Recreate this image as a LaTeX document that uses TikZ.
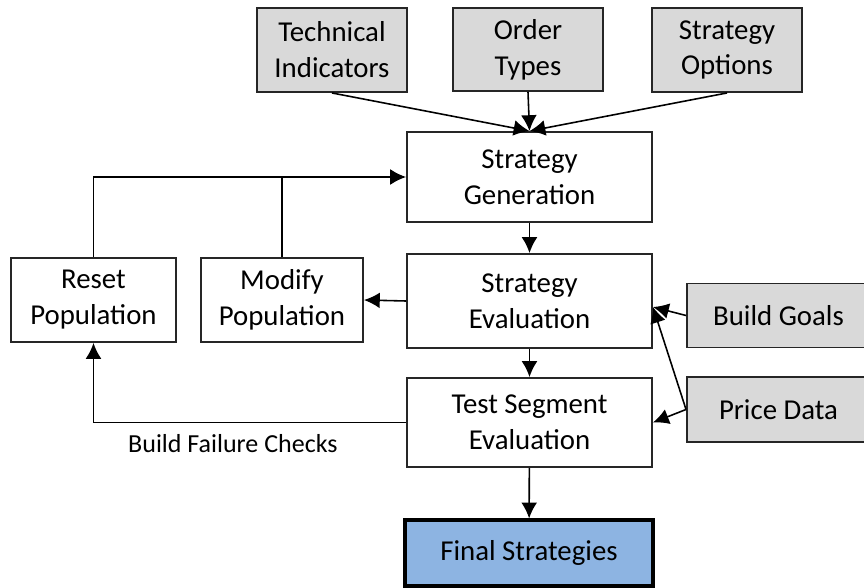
\documentclass[tikz,border=0pt]{standalone}
\usepackage{fontspec}
\setmainfont{Carlito}
\usetikzlibrary{arrows.meta}
\tikzset{>={Latex[length=9pt,width=9pt]}}
\definecolor{inputgray}{HTML}{D9D9D9}
\definecolor{finalblue}{HTML}{8DB4E2}
\colorlet{edge}{black!85}

\begin{document}
\begin{tikzpicture}[
  font=\fontsize{16.4}{20.4}\selectfont,
  box/.style={draw=edge, line width=1.1pt, fill=white, align=center, inner sep=0pt},
  inputbox/.style={box, fill=inputgray},
  finalbox/.style={box, fill=finalblue, line width=1.8pt, draw=black},
  flow/.style={->, line width=0.9pt, black}
]
  \useasboundingbox (0,0) rectangle (17.28,11.74);
  % inputs
  \node[inputbox, minimum width=3cm, minimum height=1.68cm] (indicators) at (6.64,10.74) {Technical\\Indicators};
  \node[inputbox, minimum width=3cm, minimum height=1.66cm] (ordertypes) at (10.56,10.75) {Order\\Types};
  \node[inputbox, minimum width=3cm, minimum height=1.68cm] (options) at (14.54,10.74) {Strategy\\Options};
  % main column
  \node[box, minimum width=4.9cm, minimum height=1.8cm] (generation) at (10.59,8.20) {Strategy\\Generation};
  \node[box, minimum width=4.9cm, minimum height=1.88cm] (evaluation) at (10.59,5.72) {Strategy\\Evaluation};
  \node[box, minimum width=4.9cm, minimum height=1.78cm] (testseg) at (10.59,3.29) {Test Segment\\Evaluation};
  \node[finalbox, minimum width=4.96cm, minimum height=1.32cm] (final) at (10.58,0.68) {Final Strategies};
  % population
  \node[box, minimum width=3.3cm, minimum height=1.68cm] (reset) at (1.87,5.74) {Reset\\Population};
  \node[box, minimum width=3.24cm, minimum height=1.68cm] (modify) at (5.64,5.74) {Modify\\Population};
  % data
  \node[inputbox, minimum width=3.66cm, minimum height=1.28cm] (goals) at (15.57,5.43) {Build Goals};
  \node[inputbox, minimum width=3.66cm, minimum height=1.3cm] (prices) at (15.57,3.55) {Price Data};

  \draw[flow] (indicators.south) -- (generation.north);
  \draw[flow] (ordertypes.south) -- (generation.north);
  \draw[flow] (options.south) -- (generation.north);
  \draw[flow] (generation) -- (evaluation);
  \draw[flow] (evaluation) -- (testseg);
  \draw[flow] (testseg) -- (final);
  \draw[flow] (evaluation.west) -- (modify.east);
  \draw[flow] (reset.north) |- (generation.west);
  \draw[line width=0.9pt] (modify.north) -- (modify.north |- generation.west);
  \draw[flow] (testseg.west) -| node[pos=0.277, below=3pt, font=\fontsize{14.8}{18}\selectfont] (failchecks) {Build Failure Checks} (reset.south);
  \coordinate (evalin) at ([yshift=-0.12cm]evaluation.east);
  \draw[flow] (goals.west) -- (evalin);
  \draw[flow] (prices.west) -- (evalin);
  \draw[flow] (prices.west) -- (testseg.east);
\end{tikzpicture}
\end{document}
